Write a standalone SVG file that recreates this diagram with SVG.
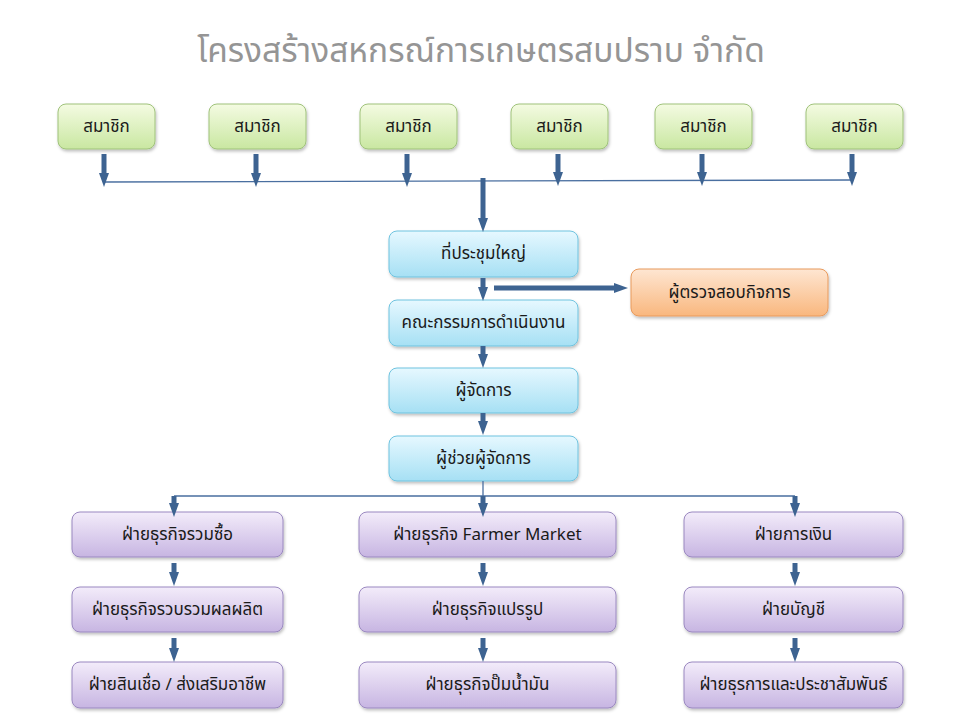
<svg xmlns="http://www.w3.org/2000/svg" width="960" height="720" viewBox="0 0 960 720">
<defs>
<linearGradient id="gG" x1="0" y1="0" x2="0" y2="1"><stop offset="0" stop-color="#f4fbe2"/><stop offset="1" stop-color="#c9e7a1"/></linearGradient>
<linearGradient id="gB" x1="0" y1="0" x2="0" y2="1"><stop offset="0" stop-color="#e6f8ff"/><stop offset="1" stop-color="#a6e0f4"/></linearGradient>
<linearGradient id="gO" x1="0" y1="0" x2="0" y2="1"><stop offset="0" stop-color="#fee6d2"/><stop offset="1" stop-color="#f9b77e"/></linearGradient>
<linearGradient id="gP" x1="0" y1="0" x2="0" y2="1"><stop offset="0" stop-color="#f3ecfa"/><stop offset="1" stop-color="#c7b5e2"/></linearGradient>
<filter id="sh" x="-10%" y="-20%" width="120%" height="150%"><feDropShadow dx="1" dy="2" stdDeviation="1.5" flood-color="#000" flood-opacity="0.25"/></filter>
<marker id="ah" markerUnits="userSpaceOnUse" markerWidth="14" markerHeight="10" viewBox="0 0 14 10" refX="0" refY="5" orient="auto"><path d="M0,0 L14,5 L0,10 Z" fill="#3d6391"/></marker>
</defs>
<style>
.t{font-family:"Noto Sans Thai","Noto Sans","DejaVu Sans",sans-serif;font-size:17px;font-weight:400;fill:#1a1a1a;text-anchor:middle;dominant-baseline:central}
.title{font-family:"Noto Sans Thai","Noto Sans","DejaVu Sans",sans-serif;font-size:33.5px;font-weight:400;fill:#959595;text-anchor:middle}
.g rect{fill:url(#gG);stroke:#9fc27a;stroke-width:1}
.b rect{fill:url(#gB);stroke:#6fc3df;stroke-width:1}
.o rect{fill:url(#gO);stroke:#e89a5c;stroke-width:1}
.p rect{fill:url(#gP);stroke:#9a88c0;stroke-width:1}
.node rect{filter:url(#sh)}
.ar{stroke:#3d6391;stroke-width:5;fill:none;marker-end:url(#ah)}
.ln{stroke:#4a6fa0;stroke-width:1.3;fill:none}
</style>
<rect width="960" height="720" fill="#ffffff"/>
<text class="title" x="481" y="62">โครงสร้างสหกรณ์การเกษตรสบปราบ จำกัด</text>

<g id="m1" class="node g"><rect x="58" y="104" width="97" height="45" rx="8"/><text class="t" x="106.5" y="126.5">สมาชิก</text></g>
<g id="m2" class="node g"><rect x="209" y="104" width="97" height="45" rx="8"/><text class="t" x="257.5" y="126.5">สมาชิก</text></g>
<g id="m3" class="node g"><rect x="360" y="104" width="97" height="45" rx="8"/><text class="t" x="408.5" y="126.5">สมาชิก</text></g>
<g id="m4" class="node g"><rect x="511" y="104" width="97" height="45" rx="8"/><text class="t" x="559.5" y="126.5">สมาชิก</text></g>
<g id="m5" class="node g"><rect x="655" y="104" width="97" height="45" rx="8"/><text class="t" x="703.5" y="126.5">สมาชิก</text></g>
<g id="m6" class="node g"><rect x="806" y="104" width="97" height="45" rx="8"/><text class="t" x="854.5" y="126.5">สมาชิก</text></g>

<g id="assembly" class="node b"><rect x="389" y="231" width="189" height="46" rx="8"/><text class="t" x="483.5" y="254">ที่ประชุมใหญ่</text></g>
<g id="auditor" class="node o"><rect x="631" y="269" width="197" height="47" rx="8"/><text class="t" x="729.5" y="292.5">ผู้ตรวจสอบกิจการ</text></g>
<g id="board" class="node b"><rect x="389" y="300" width="189" height="46" rx="8"/><text class="t" x="483.5" y="323">คณะกรรมการดำเนินงาน</text></g>
<g id="manager" class="node b"><rect x="389" y="368" width="189" height="45" rx="8"/><text class="t" x="483.5" y="390.5">ผู้จัดการ</text></g>
<g id="asst" class="node b"><rect x="389" y="436" width="189" height="45" rx="8"/><text class="t" x="483.5" y="458.5">ผู้ช่วยผู้จัดการ</text></g>

<g id="d1" class="node p"><rect x="72" y="512" width="211" height="45" rx="8"/><text class="t" x="177.5" y="534.5">ฝ่ายธุรกิจรวมซื้อ</text></g>
<g id="d2" class="node p"><rect x="359" y="512" width="257" height="45" rx="8"/><text class="t" x="487.5" y="534.5">ฝ่ายธุรกิจ Farmer Market</text></g>
<g id="d3" class="node p"><rect x="684" y="512" width="219" height="45" rx="8"/><text class="t" x="793.5" y="534.5">ฝ่ายการเงิน</text></g>
<g id="d4" class="node p"><rect x="72" y="587" width="211" height="45" rx="8"/><text class="t" x="177.5" y="609.5">ฝ่ายธุรกิจรวบรวมผลผลิต</text></g>
<g id="d5" class="node p"><rect x="359" y="587" width="257" height="45" rx="8"/><text class="t" x="487.5" y="609.5">ฝ่ายธุรกิจแปรรูป</text></g>
<g id="d6" class="node p"><rect x="684" y="587" width="219" height="45" rx="8"/><text class="t" x="793.5" y="609.5">ฝ่ายบัญชี</text></g>
<g id="d7" class="node p"><rect x="72" y="662" width="211" height="46" rx="8"/><text class="t" x="177.5" y="685">ฝ่ายสินเชื่อ / ส่งเสริมอาชีพ</text></g>
<g id="d8" class="node p"><rect x="359" y="662" width="257" height="46" rx="8"/><text class="t" x="487.5" y="685">ฝ่ายธุรกิจปั๊มน้ำมัน</text></g>
<g id="d9" class="node p"><rect x="684" y="662" width="219" height="46" rx="8"/><text class="t" x="793.5" y="685">ฝ่ายธุรการและประชาสัมพันธ์</text></g>

<g id="connectors">
<path class="ln" d="M104,182 L852,180"/>
<line class="ar" x1="104" y1="154" x2="104" y2="173"/>
<line class="ar" x1="256" y1="154" x2="256" y2="173"/>
<line class="ar" x1="407" y1="154" x2="407" y2="173"/>
<line class="ar" x1="558" y1="154" x2="558" y2="172"/>
<line class="ar" x1="702" y1="154" x2="702" y2="172"/>
<line class="ar" x1="852" y1="154" x2="852" y2="172"/>
<line class="ar" x1="483" y1="178" x2="483" y2="218"/>
<line class="ar" x1="483" y1="278" x2="483" y2="287"/>
<line class="ar" x1="494" y1="288" x2="614" y2="288"/>
<line class="ar" x1="483" y1="346" x2="483" y2="354"/>
<line class="ar" x1="483" y1="413" x2="483" y2="421"/>
<path class="ln" d="M483,481 L483,496 M174,496 L795,496"/>
<line class="ar" x1="174" y1="496" x2="174" y2="503"/>
<line class="ar" x1="483" y1="496" x2="483" y2="503"/>
<line class="ar" x1="795" y1="496" x2="795" y2="503"/>
<line class="ar" x1="174" y1="563" x2="174" y2="572"/>
<line class="ar" x1="483" y1="563" x2="483" y2="572"/>
<line class="ar" x1="795" y1="563" x2="795" y2="572"/>
<line class="ar" x1="174" y1="638" x2="174" y2="648"/>
<line class="ar" x1="483" y1="638" x2="483" y2="648"/>
<line class="ar" x1="795" y1="638" x2="795" y2="648"/>
</g>
</svg>
